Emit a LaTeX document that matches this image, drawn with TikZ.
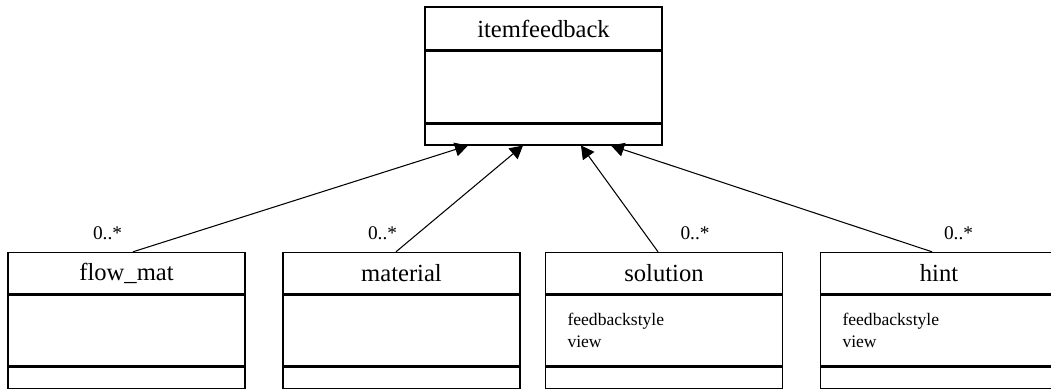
\documentclass[tikz,border=0pt]{standalone}
\usepackage{fontspec}
\setmainfont{Liberation Serif}
\usetikzlibrary{positioning,arrows.meta}

\tikzset{
  classhead/.style={draw, line width=0.8pt, minimum width=4.74cm, minimum height=0.82cm, inner sep=0pt, font=\fontsize{14}{16}\selectfont},
  classattr/.style={draw, line width=0.8pt, minimum width=4.74cm, minimum height=1.42cm, inner xsep=0.44cm, inner ysep=0pt, text width=3.86cm, align=left, font=\fontsize{10}{12}\selectfont},
  classops/.style={draw, line width=0.8pt, minimum width=4.74cm, minimum height=0.42cm, inner sep=0pt},
  mult/.style={font=\fontsize{11}{13}\selectfont, inner sep=1pt},
  aggr/.style={line width=0.6pt, -{Triangle[length=0.26cm,width=0.28cm]}}
}

\begin{document}
\begin{tikzpicture}
\useasboundingbox (0,0) rectangle (21.02,7.8);

% top class
\node[classhead, minimum height=0.86cm] (itemfeedback) at (10.87,7.23) {itemfeedback};
\node[classattr, below=0pt of itemfeedback] (itemfeedback-attr) {};
\node[classops, below=0pt of itemfeedback-attr] (itemfeedback-ops) {};

% bottom classes
\node[classhead] (flowmat) at (2.53,2.34) {flow\_mat};
\node[classattr, below=0pt of flowmat] (flowmat-attr) {};
\node[classops, below=0pt of flowmat-attr] (flowmat-ops) {};

\node[classhead] (material) at (8.03,2.34) {material};
\node[classattr, below=0pt of material] (material-attr) {};
\node[classops, below=0pt of material-attr] (material-ops) {};

\node[classhead] (solution) at (13.28,2.34) {solution};
\node[classattr, below=0pt of solution] (solution-attr) {feedbackstyle\\view};
\node[classops, below=0pt of solution-attr] (solution-ops) {};

\node[classhead] (hint) at (18.78,2.34) {hint};
\node[classattr, below=0pt of hint] (hint-attr) {feedbackstyle\\view};
\node[classops, below=0pt of hint-attr] (hint-ops) {};

% multiplicities
\node[mult] (flowmat-mult) at (2.15,3.14) {0..*};
\node[mult] (material-mult) at (7.65,3.14) {0..*};
\node[mult] (solution-mult) at (13.9,3.14) {0..*};
\node[mult] (hint-mult) at (19.17,3.14) {0..*};

% associations
\draw[aggr] ([xshift=0.13cm]flowmat.north) -- ([xshift=-1.51cm]itemfeedback-ops.south);
\draw[aggr] ([xshift=-0.11cm]material.north) -- ([xshift=-0.41cm]itemfeedback-ops.south);
\draw[aggr] ([xshift=-0.12cm]solution.north) -- ([xshift=0.75cm]itemfeedback-ops.south);
\draw[aggr] ([xshift=-0.14cm]hint.north) -- ([xshift=1.35cm]itemfeedback-ops.south);

\end{tikzpicture}
\end{document}
